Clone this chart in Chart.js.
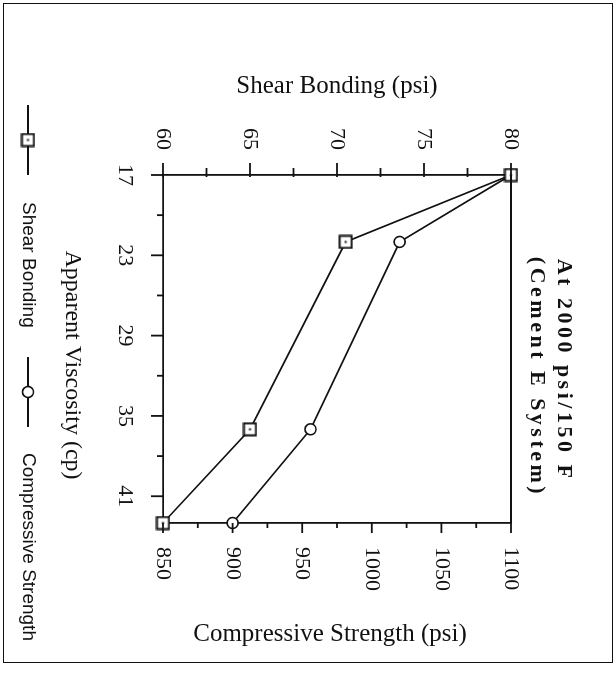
<!DOCTYPE html>
<html>
<head>
<meta charset="utf-8">
<script src="https://cdn.jsdelivr.net/npm/chart.js@4.4.0/dist/chart.umd.min.js"></script>
<style>
  html, body { margin: 0; padding: 0; background: #fff; overflow: hidden; }
  #page { position: absolute; left: 0; top: 0; width: 616px; height: 673px; background: #fff; }
  /* the figure is printed sideways: draw it upright, then turn it a quarter clockwise */
  #turned { position: absolute; left: 0; top: 0; width: 673px; height: 616px;
            transform-origin: 0 0; transform: translate(616px, 0) rotate(90deg); }
  #frame { position: absolute; left: 3px; top: 3px; width: 660px; height: 610px;
           box-sizing: border-box; border: 1.5px solid #111; }
  canvas { position: absolute; left: 0; top: 0; }
</style>
</head>
<body>
<div id="page">
  <div id="turned">
    <div id="frame"></div>
    <canvas id="chart" width="673" height="616"></canvas>
  </div>
</div>
<script>
// data
const viscosity = [17, 22, 36, 43];
const shearBonding = [80, 70.5, 65, 60];
const compressiveStrength = [1100, 1020, 956, 900];

// tick values
const viscosityTicks = [17, 23, 29, 35, 41];
const viscosityMinor = [20, 26, 32, 38];
const shearTicks = [60, 65, 70, 75, 80];
const shearMinor = [62.5, 67.5, 72.5, 77.5];
const strengthTicks = [850, 900, 950, 1000, 1050, 1100];
const strengthMinor = [875, 925, 975, 1025, 1075];

const titleLines = ['At 2000 psi/150 F', '(Cement E System)'];
const legendLabels = ['Shear Bonding', 'Compressive Strength'];

const serif = '"Liberation Serif", "Times New Roman", Times, serif';
const sans = '"Liberation Sans", Arial, Helvetica, sans-serif';
const ink = '#111';

// square marker with the little dot in the middle
function squareMarker() {
    const c = document.createElement('canvas');
    c.width = 15; c.height = 15;
    const g = c.getContext('2d');
    g.fillStyle = '#fff';
    g.fillRect(1.5, 1.5, 12, 12);
    g.strokeStyle = ink; g.lineWidth = 2;
    g.strokeRect(1.5, 1.5, 12, 12);
    g.fillStyle = ink;
    g.fillRect(6.5, 6.5, 2, 2);
    return c;
}
const square = squareMarker();

const toPoints = (xs, ys) => xs.map((x, i) => ({ x, y: ys[i] }));

const extras = {
    id: 'extras',
    afterDraw(chart) {
        const { ctx, chartArea: a, scales } = chart;
        ctx.save();
        ctx.strokeStyle = ink;
        ctx.lineWidth = 1.8;
        const seg = (x1, y1, x2, y2) => { ctx.beginPath(); ctx.moveTo(x1, y1); ctx.lineTo(x2, y2); ctx.stroke(); };

        // plain line closing the box on top
        seg(a.left, a.top, a.right, a.top);

        // tick marks, long for labelled values and short in between
        const xTick = (vals, len) => vals.forEach(v => { const p = scales.x.getPixelForValue(v); seg(p, a.bottom, p, a.bottom + len); });
        const yTick = (vals, len) => vals.forEach(v => { const p = scales.y.getPixelForValue(v); seg(a.left - len, p, a.left + 2, p); });
        const y2Tick = (vals, len) => vals.forEach(v => { const p = scales.y2.getPixelForValue(v); seg(a.right, p, a.right + len, p); });
        xTick(viscosityTicks, 12); xTick(viscosityMinor, 6);
        yTick(shearTicks, 12); yTick(shearMinor, 7);
        y2Tick(strengthTicks, 10); y2Tick(strengthMinor, 5);

        ctx.fillStyle = ink;
        ctx.textBaseline = 'middle';
        ctx.textAlign = 'center';

        // x axis title
        ctx.font = '24px ' + serif;
        ctx.fillText('Apparent Viscosity (cp)', 365, 544);

        // right axis title, reading upwards like the left one
        ctx.save();
        ctx.translate(634, 286);
        ctx.rotate(-Math.PI / 2);
        ctx.font = '25px ' + serif;
        ctx.fillText('Compressive Strength (psi)', 0, 0);
        ctx.restore();

        // two-line bold title, spaced out
        ctx.font = 'bold 22px ' + serif;
        ctx.letterSpacing = '3.5px';
        ctx.fillText(titleLines[0], 370, 52);
        ctx.fillText(titleLines[1], 377, 79);
        ctx.letterSpacing = '0px';

        // legend: line - marker - line, then label
        const ly = 588;
        seg(105, ly, 175, ly);
        ctx.drawImage(square, 140 - 7.5, ly - 7.5);
        seg(357, ly, 427, ly);
        ctx.beginPath();
        ctx.arc(392, ly, 5.5, 0, Math.PI * 2);
        ctx.fillStyle = '#fff'; ctx.fill();
        ctx.lineWidth = 1.6; ctx.stroke();

        ctx.fillStyle = ink;
        ctx.textAlign = 'left';
        ctx.font = '19px ' + sans;
        ctx.fillText(legendLabels[0], 202, ly);
        ctx.fillText(legendLabels[1], 453, ly);
        ctx.restore();
    }
};

const tickFont = { family: serif, size: 22 };
const plain = v => String(v);

new Chart(document.getElementById('chart'), {
    type: 'line',
    data: {
        datasets: [
            {
                label: legendLabels[0],
                data: toPoints(viscosity, shearBonding),
                yAxisID: 'y',
                borderColor: ink,
                borderWidth: 1.7,
                pointStyle: square,
                pointRadius: 7,
                tension: 0,
                clip: false
            },
            {
                label: legendLabels[1],
                data: toPoints(viscosity, compressiveStrength),
                yAxisID: 'y2',
                borderColor: ink,
                borderWidth: 1.7,
                pointStyle: 'circle',
                pointRadius: 5.5,
                pointBorderWidth: 1.6,
                pointBackgroundColor: '#fff',
                pointBorderColor: ink,
                tension: 0,
                clip: false
            }
        ]
    },
    options: {
        responsive: false,
        animation: false,
        events: [],
        layout: { padding: { top: 105, left: 0, right: 0, bottom: 0 } },
        plugins: { legend: { display: false }, title: { display: false }, tooltip: { enabled: false } },
        scales: {
            x: {
                type: 'linear',
                position: 'bottom',
                min: 17,
                max: 43,
                afterBuildTicks: s => { s.ticks = viscosityTicks.map(value => ({ value })); },
                afterFit: s => { s.height = 163; },
                grid: { display: false, drawTicks: false },
                border: { display: true, color: ink, width: 1.8 },
                ticks: { color: ink, font: tickFont, padding: 25, maxRotation: 0, autoSkip: false, callback: plain }
            },
            y: {
                type: 'linear',
                position: 'left',
                min: 60,
                max: 80,
                afterBuildTicks: s => { s.ticks = shearTicks.map(value => ({ value })); },
                afterFit: s => { s.width = 175; },
                grid: { display: false, drawTicks: false },
                border: { display: true, color: ink, width: 1.8 },
                ticks: { color: ink, font: tickFont, padding: 25, autoSkip: false, callback: plain },
                title: {
                    display: true,
                    text: 'Shear Bonding (psi)',
                    color: ink,
                    font: { family: serif, size: 25 },
                    padding: { top: 71, bottom: 0 }
                }
            },
            y2: {
                type: 'linear',
                position: 'right',
                min: 850,
                max: 1100,
                afterBuildTicks: s => { s.ticks = strengthTicks.map(value => ({ value })); },
                afterFit: s => { s.width = 150; },
                grid: { display: false, drawTicks: false },
                border: { display: true, color: ink, width: 1.8 },
                ticks: { color: ink, font: tickFont, padding: 24, autoSkip: false, callback: plain }
            }
        }
    },
    plugins: [extras]
});
</script>
</body>
</html>
